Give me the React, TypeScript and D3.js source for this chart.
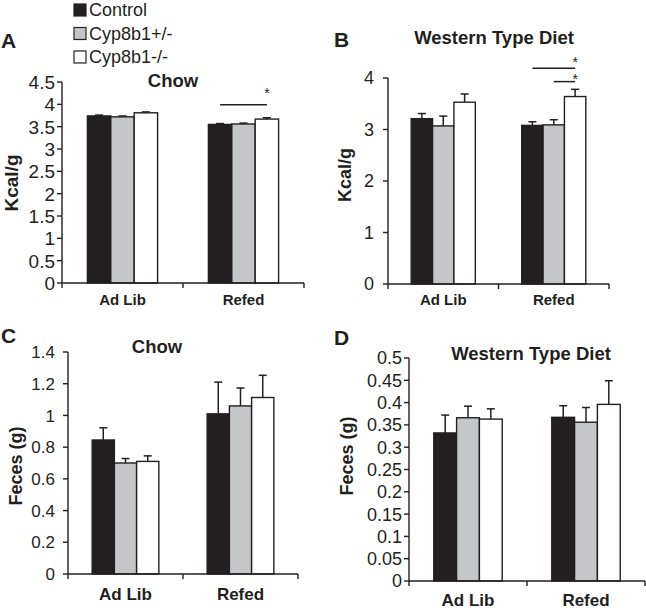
import * as d3 from 'd3';

const GROUPS = ['Control', 'Cyp8b1+/-', 'Cyp8b1-/-'];
const CONDITIONS = ['Ad Lib', 'Refed'];
const FILLS = ['#231f20', '#c5c6c8', '#ffffff'];

// A: Kcal/g, chow
const A_MEAN = [[3.74, 3.72, 3.81], [3.55, 3.56, 3.67]];
const A_SEM = [[0.02, 0.02, 0.02], [0.02, 0.02, 0.03]];
const A_TICKS = ['0', '0.5', '1', '1.5', '2', '2.5', '3', '3.5', '4', '4.5'];
const A_SIG = [{ cond: 1, from: 0, to: 2, line: 3.99, star: 4.31 }];

// B: Kcal/g, western type diet
const B_MEAN = [[3.21, 3.07, 3.53], [3.08, 3.09, 3.64]];
const B_SEM = [[0.1, 0.19, 0.16], [0.07, 0.1, 0.14]];
const B_TICKS = ['0', '1', '2', '3', '4'];
const B_SIG = [
  { cond: 1, from: 0, to: 2, line: 4.19, star: 4.36 },
  { cond: 1, from: 1, to: 2, line: 3.93, star: 4.04 },
];

// C: feces, chow
const C_MEAN = [[0.845, 0.7, 0.71], [1.01, 1.06, 1.113]];
const C_SEM = [[0.077, 0.028, 0.035], [0.2, 0.113, 0.14]];
const C_TICKS = ['0', '0.2', '0.4', '0.6', '0.8', '1', '1.2', '1.4'];

// D: feces, western type diet
const D_MEAN = [[0.332, 0.366, 0.363], [0.367, 0.356, 0.396]];
const D_SEM = [[0.04, 0.026, 0.023], [0.026, 0.033, 0.053]];
const D_TICKS = ['0', '0.05', '0.1', '0.15', '0.2', '0.25', '0.3', '0.35', '0.4', '0.45', '0.5'];

const FONT = '"Liberation Sans", Arial, Helvetica, sans-serif';
const INK = '#231f20';
const GROUP_FRAC = 0.58;

type Sig = { cond: number; from: number; to: number; line: number; star: number };

interface PanelProps {
  letter: string;
  letterPos: [number, number];
  title: string;
  titlePos: [number, number];
  yLabel: string;
  yLabelPos: [number, number];
  yLabelFont: number;
  mean: number[][];
  sem: number[][];
  ticks: string[];
  sig?: Sig[];
  left: number;
  right: number;
  bottom: number;
  top: number;
  tickFont: number;
  tickGap: number;
  xFont: number;
  xBase: number;
}

function Panel(p: PanelProps) {
  const max = +p.ticks[p.ticks.length - 1];
  const x0 = d3.scaleBand().domain(CONDITIONS).range([p.left, p.right]);
  const bw = x0.bandwidth();
  const x1 = d3.scaleBand().domain(GROUPS).range([0, bw * GROUP_FRAC]);
  const y = d3.scaleLinear().domain([0, max]).range([p.bottom, p.top]);
  const barX = (c: number, g: number) =>
    (x0(CONDITIONS[c]) as number) + (bw * (1 - GROUP_FRAC)) / 2 + (x1(GROUPS[g]) as number);
  const barMid = (c: number, g: number) => barX(c, g) + x1.bandwidth() / 2;
  const bounds = [p.left, ...CONDITIONS.map((c) => (x0(c) as number) + bw)];

  return (
    <g>
      <text x={p.letterPos[0]} y={p.letterPos[1]} fontSize={21} fontWeight="bold" fill={INK}>
        {p.letter}
      </text>
      <text x={p.titlePos[0]} y={p.titlePos[1]} fontSize={18.5} fontWeight="bold" fill={INK} textAnchor="middle">
        {p.title}
      </text>
      <text
        transform={`translate(${p.yLabelPos[0]},${p.yLabelPos[1]}) rotate(-90)`}
        fontSize={p.yLabelFont}
        fontWeight="bold"
        fill={INK}
        textAnchor="middle"
        dy="0.35em"
      >
        {p.yLabel}
      </text>

      {/* bars + error bars */}
      {p.mean.map((row, c) =>
        row.map((v, g) => {
          const bx = barX(c, g);
          const mid = barMid(c, g);
          const yTop = y(v + p.sem[c][g]);
          return (
            <g key={`${c}-${g}`}>
              <line x1={mid} x2={mid} y1={y(v)} y2={yTop} stroke={INK} strokeWidth={1.5} />
              <line x1={mid - 4} x2={mid + 4} y1={yTop} y2={yTop} stroke={INK} strokeWidth={1.5} />
              <rect
                x={bx}
                y={y(v)}
                width={x1.bandwidth()}
                height={p.bottom - y(v)}
                fill={FILLS[g]}
                stroke={INK}
                strokeWidth={1.4}
              />
            </g>
          );
        })
      )}

      {/* y axis */}
      <line x1={p.left} x2={p.left} y1={p.bottom} y2={p.top} stroke={INK} strokeWidth={1.4} />
      {p.ticks.map((t) => (
        <g key={t} transform={`translate(0,${y(+t)})`}>
          <line x1={p.left - 5} x2={p.left} stroke={INK} strokeWidth={1.4} />
          <text x={p.left - p.tickGap} dy="0.36em" textAnchor="end" fontSize={p.tickFont} fill={INK}>
            {t}
          </text>
        </g>
      ))}

      {/* x axis */}
      <line x1={p.left} x2={p.right} y1={p.bottom} y2={p.bottom} stroke={INK} strokeWidth={1.4} />
      {bounds.map((b, i) => (
        <line key={i} x1={b} x2={b} y1={p.bottom} y2={p.bottom + 5} stroke={INK} strokeWidth={1.4} />
      ))}
      {CONDITIONS.map((c) => (
        <text
          key={c}
          x={(x0(c) as number) + bw / 2}
          y={p.xBase}
          textAnchor="middle"
          fontSize={p.xFont}
          fontWeight="bold"
          fill={INK}
        >
          {c}
        </text>
      ))}

      {/* significance */}
      {(p.sig || []).map((s, i) => (
        <g key={i}>
          <line
            x1={barMid(s.cond, s.from)}
            x2={barMid(s.cond, s.to)}
            y1={y(s.line)}
            y2={y(s.line)}
            stroke={INK}
            strokeWidth={1.5}
          />
          <text x={barMid(s.cond, s.to)} y={y(s.star) + 8} textAnchor="middle" fontSize={14} fill={INK}>
            *
          </text>
        </g>
      ))}
    </g>
  );
}

function Legend() {
  const rows = d3.scalePoint().domain(GROUPS).range([10, 57]);
  return (
    <g>
      {GROUPS.map((g, i) => (
        <g key={g} transform={`translate(0,${rows(g)})`}>
          <rect x={74} y={-6} width={12} height={12} fill={FILLS[i]} stroke={INK} strokeWidth={1.2} />
          <text x={89} dy="0.36em" fontSize={18} fill={INK}>
            {g}
          </text>
        </g>
      ))}
    </g>
  );
}

export default function App() {
  return (
    <svg
      width={646}
      height={613}
      style={{ position: 'absolute', left: 0, top: 0, background: '#fff', fontFamily: FONT }}
    >
      <Legend />
      <Panel
        letter="A"
        letterPos={[1, 48]}
        title="Chow"
        titlePos={[173, 87]}
        yLabel="Kcal/g"
        yLabelPos={[11, 183]}
        yLabelFont={19}
        mean={A_MEAN}
        sem={A_SEM}
        ticks={A_TICKS}
        sig={A_SIG}
        left={62}
        right={304}
        bottom={283}
        top={82}
        tickFont={19}
        tickGap={7}
        xFont={15}
        xBase={305}
      />
      <Panel
        letter="B"
        letterPos={[334, 47]}
        title="Western Type Diet"
        titlePos={[494, 44]}
        yLabel="Kcal/g"
        yLabelPos={[345, 175]}
        yLabelFont={18}
        mean={B_MEAN}
        sem={B_SEM}
        ticks={B_TICKS}
        sig={B_SIG}
        left={388}
        right={609}
        bottom={284}
        top={78}
        tickFont={18}
        tickGap={14}
        xFont={15}
        xBase={305}
      />
      <Panel
        letter="C"
        letterPos={[1, 343]}
        title="Chow"
        titlePos={[157, 353]}
        yLabel="Feces (g)"
        yLabelPos={[16, 466]}
        yLabelFont={18}
        mean={C_MEAN}
        sem={C_SEM}
        ticks={C_TICKS}
        left={68}
        right={298}
        bottom={574}
        top={352}
        tickFont={17}
        tickGap={13}
        xFont={17}
        xBase={600}
      />
      <Panel
        letter="D"
        letterPos={[334, 345]}
        title="Western Type Diet"
        titlePos={[531, 360]}
        yLabel="Feces (g)"
        yLabelPos={[347, 456]}
        yLabelFont={18}
        mean={D_MEAN}
        sem={D_SEM}
        ticks={D_TICKS}
        left={409}
        right={645}
        bottom={581}
        top={358}
        tickFont={18}
        tickGap={7}
        xFont={17}
        xBase={606}
      />
    </svg>
  );
}
